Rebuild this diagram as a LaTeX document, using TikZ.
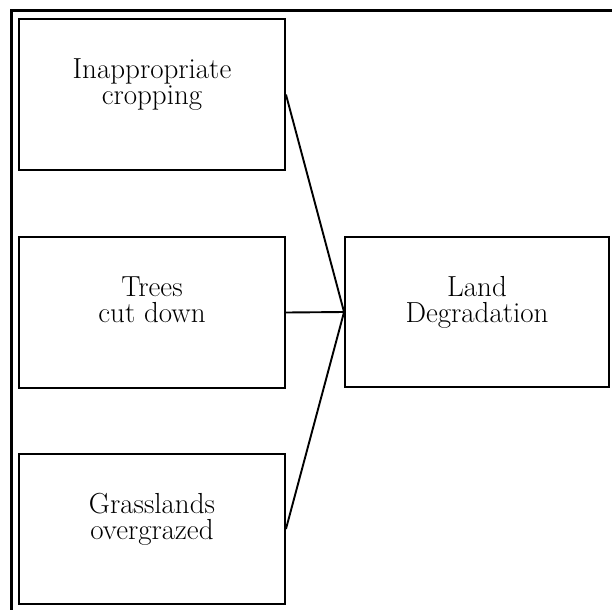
\documentclass[tikz,border=0pt]{standalone}
\usepackage{fontspec}
\setmainfont{Latin Modern Roman}
\begin{document}
\begin{tikzpicture}[x=1pt,y=-1pt,
  box/.style={draw=black,line width=1.9pt,inner sep=0pt},
  txt/.style={inner sep=0pt,align=center,font=\fontsize{29}{26}\selectfont},
  conn/.style={draw=black,line width=1.9pt}]
\useasboundingbox (0,0) rectangle (612,610);
% outer frame (top and left only)
\draw[draw=black,line width=2.2pt] (612,10.5) -- (11.5,10.5) -- (11.5,610);
% boxes
\node[box,minimum width=266pt,minimum height=151pt] (boxA) at (152,94.5) {};
\node[box,minimum width=266pt,minimum height=151pt] (boxB) at (152,312.5) {};
\node[box,minimum width=266pt,minimum height=150pt] (boxC) at (152,529) {};
\node[box,minimum width=264pt,minimum height=150pt] (boxD) at (477,312) {};
% texts
\node[txt] (tA) at (152,84.9) {Inappropriate\\cropping};
\node[txt] (tB) at (152,300.1) {Trees\\cut down};
\node[txt] (tC) at (152,519.8) {Grasslands\\overgrazed};
\node[txt] (tD) at (477,302.8) {Land\\Degradation};
% connectors
\draw[conn] (boxA.east) -- (boxD.west);
\draw[conn] (boxB.east) -- (boxD.west);
\draw[conn] (boxC.east) -- (boxD.west);
\end{tikzpicture}
\end{document}
